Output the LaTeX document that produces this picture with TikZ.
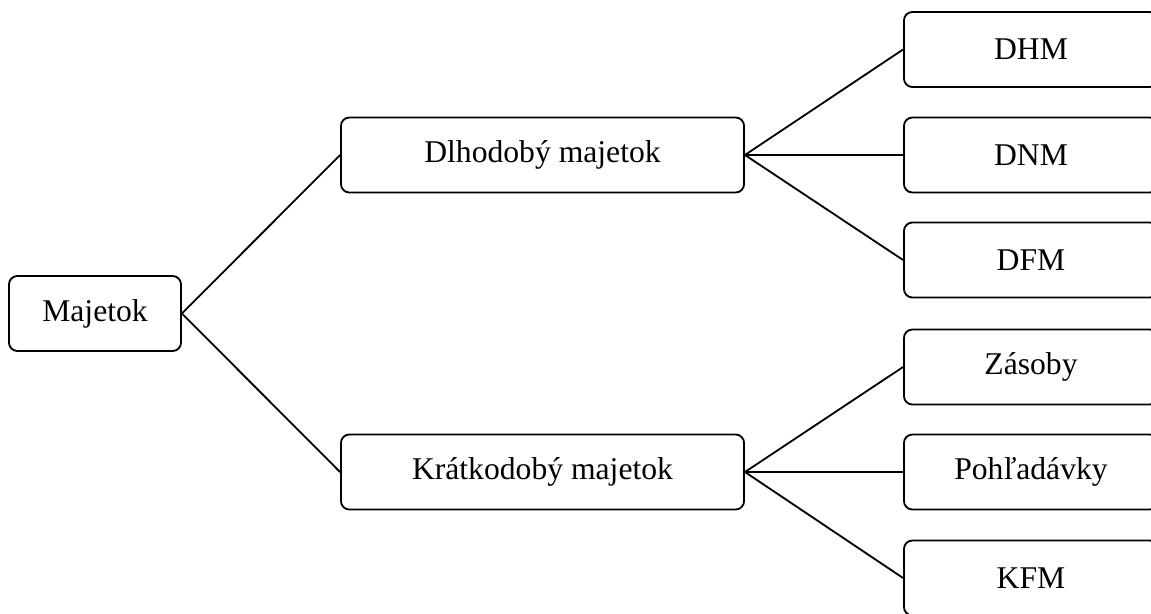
\documentclass[tikz,border=0pt]{standalone}
\usepackage{fontspec}
\setmainfont{Liberation Serif}
\usepackage{tikz}
\tikzset{
	box/.style={draw, line width=1.3pt, rounded corners=6pt, minimum height=1.875cm, inner sep=0pt, font=\fontsize{22.5}{27}\selectfont},
	rootbox/.style={box, minimum width=4.3cm},
	midbox/.style={box, minimum width=10.075cm},
	leafbox/.style={box, minimum width=6.35cm},
	link/.style={line width=1.3pt}
}

\begin{document}
\begin{tikzpicture}[x=0.025cm, y=-0.025cm]
			%%%%% START %%%%%
			
			\clip (0, 0) rectangle (1151, 613);
			
			\node[rootbox] (majetok) at (95, 313.5) {Majetok};
			
			\node[midbox] (dlhodoby) at (542.5, 155) {Dlhodobý majetok};
			\node[midbox] (kratkodoby) at (542.5, 472) {Krátkodobý majetok};
			
			\node[leafbox] (dhm) at (1031, 49.5) {DHM};
			\node[leafbox] (dnm) at (1031, 155) {DNM};
			\node[leafbox] (dfm) at (1031, 260) {DFM};
			
			\node[leafbox] (zasoby) at (1031, 367) {Zásoby};
			\node[leafbox] (pohladavky) at (1031, 472) {Pohľadávky};
			\node[leafbox] (kfm) at (1031, 578) {KFM};
			
			\draw[link] (majetok.east) -- (dlhodoby.west);
			\draw[link] (majetok.east) -- (kratkodoby.west);
			
			\foreach \leaf in {dhm, dnm, dfm}
				\draw[link] (dlhodoby.east) -- (\leaf.west);
			\foreach \leaf in {zasoby, pohladavky, kfm}
				\draw[link] (kratkodoby.east) -- (\leaf.west);
			
			%%%%% END %%%%%
		\end{tikzpicture}
\end{document}
